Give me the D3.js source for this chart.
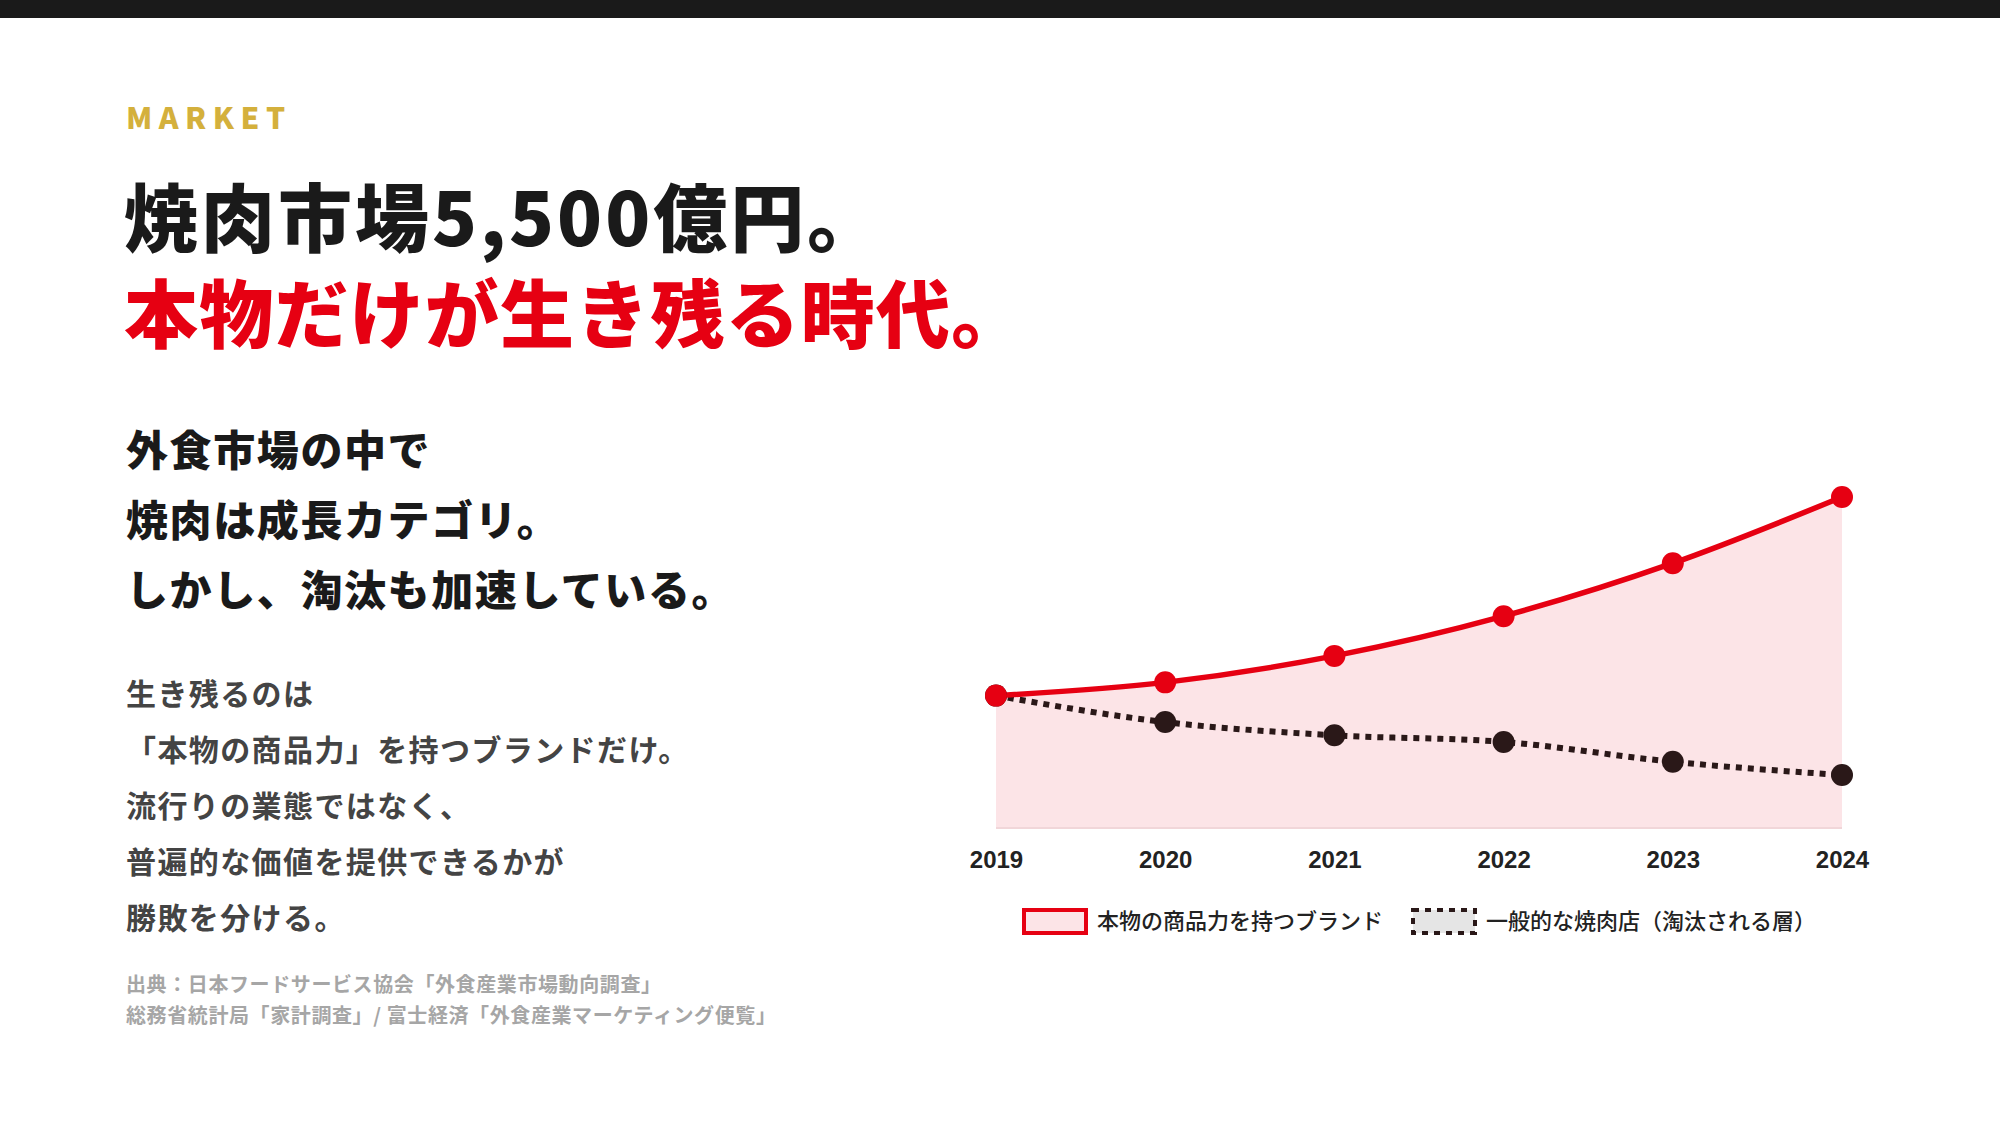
<!DOCTYPE html>
<html>
<head>
<meta charset="utf-8">
<script src="https://cdn.jsdelivr.net/npm/d3@7"></script>
<style>
  body { margin: 0; background: #fff; }
  svg { display: block; }
</style>
</head>
<body>
<script>
// data (index, 2019 = 100)
const years = ["2019", "2020", "2021", "2022", "2023", "2024"];
const brandValues = [100, 104, 112, 124, 140, 160];
const generalValues = [100, 92, 88, 86, 80, 76];
const seriesNames = ["本物の商品力を持つブランド", "一般的な焼肉店（淘汰される層）"];

const leadLines = ["外食市場の中で", "焼肉は成長カテゴリ。", "しかし、淘汰も加速している。"];
const bodyLines = ["生き残るのは", "「本物の商品力」を持つブランドだけ。", "流行りの業態ではなく、", "普遍的な価値を提供できるかが", "勝敗を分ける。"];
const sourceLines = ["出典：日本フードサービス協会「外食産業市場動向調査」", "総務省統計局「家計調査」/ 富士経済「外食産業マーケティング便覧」"];

const W = 2000, H = 1125;
const jp = "'Noto Sans CJK JP', 'Noto Sans', sans-serif";
const RED = "#e60012", DARK = "#2a1818";

const svg = d3.select("body").append("svg")
  .attr("width", W).attr("height", H);

// top bar
svg.append("rect").attr("width", W).attr("height", 18).attr("fill", "#1a1a1a");

// header texts
svg.append("text")
  .attr("x", 126).attr("y", 129)
  .attr("font-family", jp).attr("font-weight", 900).attr("font-size", 30)
  .attr("letter-spacing", 6.5).attr("fill", "#d4b03c")
  .text("MARKET");

svg.append("text")
  .attr("x", 124).attr("y", 246)
  .attr("font-family", jp).attr("font-weight", 900).attr("font-size", 74)
  .attr("letter-spacing", 3)
  .attr("fill", "#1a1a1a")
  .text("焼肉市場5,500億円。");

svg.append("text")
  .attr("x", 124).attr("y", 342)
  .attr("font-family", jp).attr("font-weight", 900).attr("font-size", 74)
  .attr("letter-spacing", 1.2)
  .attr("fill", RED)
  .text("本物だけが生き残る時代。");

svg.append("g").selectAll("text")
  .data(leadLines).join("text")
  .attr("x", 126).attr("y", (d, i) => 466 + i * 70)
  .attr("font-family", jp).attr("font-weight", 900).attr("font-size", 42)
  .attr("letter-spacing", 1.6)
  .attr("fill", "#1a1a1a")
  .text(d => d);

svg.append("g").selectAll("text")
  .data(bodyLines).join("text")
  .attr("x", 126).attr("y", (d, i) => 705 + i * 56)
  .attr("font-family", jp).attr("font-weight", 700).attr("font-size", 30)
  .attr("letter-spacing", 1.4)
  .attr("fill", "#444")
  .text(d => d);

svg.append("g").selectAll("text")
  .data(sourceLines).join("text")
  .attr("x", 126).attr("y", (d, i) => 992 + i * 31)
  .attr("font-family", jp).attr("font-weight", 700).attr("font-size", 20)
  .attr("letter-spacing", 0.6)
  .attr("fill", "#a6a6a6")
  .text(d => d);

// chart
const x = d3.scalePoint().domain(years).range([996, 1842]);
const y = d3.scaleLinear().domain([60, 160]).range([828, 497]);

const brand = years.map((yr, i) => ({ yr, v: brandValues[i] }));
const general = years.map((yr, i) => ({ yr, v: generalValues[i] }));

const area = d3.area()
  .x(d => x(d.yr)).y0(y(60)).y1(d => y(d.v))
  .curve(d3.curveMonotoneX);
const line = d3.line()
  .x(d => x(d.yr)).y(d => y(d.v))
  .curve(d3.curveMonotoneX);

svg.append("path").datum(brand)
  .attr("d", area).attr("fill", "#fce4e7");

svg.append("line")
  .attr("x1", x(years[0])).attr("x2", x(years[years.length - 1]))
  .attr("y1", y(60)).attr("y2", y(60))
  .attr("stroke", "#f1d6d9").attr("stroke-width", 2);

svg.append("path").datum(general)
  .attr("d", line).attr("fill", "none")
  .attr("stroke", DARK).attr("stroke-width", 6)
  .attr("stroke-dasharray", "6 6");

svg.append("path").datum(brand)
  .attr("d", line).attr("fill", "none")
  .attr("stroke", RED).attr("stroke-width", 5.5);

svg.append("g").selectAll("circle")
  .data(general).join("circle")
  .attr("cx", d => x(d.yr)).attr("cy", d => y(d.v)).attr("r", 11)
  .attr("fill", DARK);

svg.append("g").selectAll("circle")
  .data(brand).join("circle")
  .attr("cx", d => x(d.yr)).attr("cy", d => y(d.v)).attr("r", 11)
  .attr("fill", RED);

// x axis
const xAxis = svg.append("g")
  .attr("transform", "translate(0,851)")
  .call(d3.axisBottom(x).tickSize(0).tickPadding(0));
xAxis.select(".domain").remove();
xAxis.selectAll("text")
  .attr("font-family", "'Liberation Sans', Arial, sans-serif")
  .attr("font-weight", 700).attr("font-size", 24)
  .attr("fill", "#222").attr("dy", "0.71em");

// legend
const legend = svg.append("g");
const lg = [
  { x: 1024, fill: "#fce4e7", stroke: RED, dash: null, tx: 1097 },
  { x: 1413, fill: "#e5e5e5", stroke: DARK, dash: "6 6", tx: 1486 }
];
lg.forEach((d, i) => {
  legend.append("rect")
    .attr("x", d.x).attr("y", 910).attr("width", 62).attr("height", 23)
    .attr("fill", d.fill).attr("stroke", d.stroke).attr("stroke-width", 4)
    .attr("stroke-dasharray", d.dash);
  legend.append("text")
    .attr("x", d.tx).attr("y", 921).attr("dy", "0.35em")
    .attr("font-family", jp).attr("font-weight", 500).attr("font-size", 22)
    .attr("fill", "#222")
    .text(seriesNames[i]);
});
</script>
</body>
</html>
